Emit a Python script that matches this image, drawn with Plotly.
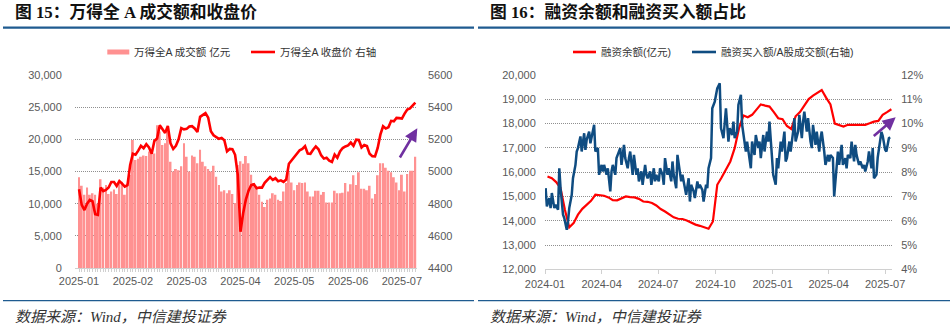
import pandas as pd
import plotly.graph_objects as go

W, H = 952, 326

# ---------------- 图15: 万得全A 成交额 & 收盘价 (2025, trading days) ----------------
holidays_2025 = ["2025-01-28", "2025-01-29", "2025-01-30", "2025-01-31", "2025-02-03",
                 "2025-02-04", "2025-04-04", "2025-05-01", "2025-05-02", "2025-05-05",
                 "2025-06-02"]
trade_dates = [d.strftime("%Y-%m-%d") for d in pd.bdate_range("2025-01-02", "2025-07-11")
               if d.strftime("%Y-%m-%d") not in holidays_2025]

# 成交额 (亿元)
turnover = [
    14100, 12800, 11400, 12500, 11400, 11600, 11400, 10000, 13800, 12500,
    12900, 11500, 11900, 12200, 11500, 13600, 13400, 11400, 13100, 14500,
    19900, 16800, 17000, 17300, 17500, 17400, 18100, 17800, 17800, 22200,
    21200, 19100, 19400, 21300, 16500, 15000, 15400, 15200, 15800, 19400,
    17300, 15000, 17500, 17300, 16300, 18400, 16500, 15800, 15400, 15000,
    15900, 14200, 12900, 11900, 12100, 11600, 12100, 11500, 10100, 16000,
    16600, 16200, 17400, 16300, 14500, 13200, 12600, 11400, 10300, 9500,
    10600, 10800, 11600, 11400, 10600, 10400, 11900, 13200, 14900, 13300,
    12100, 12900, 13300, 13200, 13300, 11900, 11100, 11100, 12000, 12000,
    11400, 11800, 10200, 10200, 10200, 12000, 11600, 11600, 11700, 13200,
    11900, 13000, 14400, 12900, 14900, 12300, 12300, 12100, 12800, 10800,
    11500, 14400, 16300, 16300, 15600, 15100, 14900, 14100, 13300, 12100,
    14500, 11900, 14600, 15100, 15100, 17300,
]

# 收盘价
close = [
    4890, 4792, 4760, 4800, 4823, 4815, 4735, 4730, 4900, 4878,
    4885, 4900, 4935, 4935, 4910, 4940, 4925, 4906, 4915, 5040,
    5110, 5104, 5130, 5160, 5145, 5170, 5150, 5110, 5190, 5205,
    5288, 5265, 5240, 5283, 5175, 5140, 5160, 5200, 5270, 5262,
    5265, 5280, 5282, 5268, 5245, 5340, 5354, 5363, 5335, 5250,
    5225, 5212, 5203, 5208, 5195, 5125, 5140, 5138, 5104, 4980,
    4625, 4740, 4825, 4880, 4915, 4920, 4896, 4900, 4900, 4930,
    4948, 4965, 4948, 4958, 4940, 4945, 4935, 4950, 5048, 5070,
    5088, 5110, 5132, 5140, 5158, 5112, 5110, 5135, 5156, 5138,
    5100, 5080, 5085, 5068, 5060, 5105, 5085, 5125, 5146, 5156,
    5162, 5180, 5160, 5198, 5196, 5150, 5165, 5158, 5110, 5095,
    5094, 5146, 5229, 5281, 5267, 5275, 5315, 5312, 5333, 5332,
    5329, 5360, 5385, 5392, 5412, 5428,
]

month_ticktext = [d[:7] if i % 20 == 0 else "" for i, d in enumerate(trade_dates)]

# ---------------- 图16: 融资余额 & 融资买入额占比 (2024-01 ~ 2025-07) ----------------
# 融资余额 (亿元), weekly (Fridays)
margin_balance = [
    15820, 15750, 15590, 15340, 14450, 13730, 13900, 14250, 14490, 14660,
    14820, 15070, 15040, 15030, 14960, 14850, 14840, 14930, 15000, 14970,
    14960, 14900, 14790, 14780, 14730, 14630, 14480, 14380, 14250, 14140,
    14080, 14070, 14010, 13920, 13840, 13790, 13730, 13670, 13970, 15480,
    15780, 16100, 16440, 16990, 17810, 18330, 18260, 18360, 18560, 18790,
    18740, 18700, 18470, 18220, 18180, 17900, 17780, 18300, 18470, 18740,
    19010, 19150, 19250, 19380, 19070, 18790, 18000, 17950, 17880, 17950,
    17950, 17950, 17970, 17950, 18010, 18080, 18110, 18360, 18470, 18590,
]
margin_dates = pd.date_range("2024-01-05", periods=len(margin_balance), freq="W-FRI")

# 融资买入额 / A股成交额 (%), every other trading day
buy_ratio = [
    7.34, 6.59, 6.93, 6.52, 7.14, 6.52, 6.66, 6.45, 8.16, 7.34,
    6.25, 6.11, 5.63, 5.97, 6.52, 7.07, 7.75, 8.30, 8.85, 8.99,
    9.47, 8.85, 9.60, 8.92, 9.33, 9.67, 9.19, 9.81, 9.95, 8.85,
    8.99, 7.89, 8.30, 8.03, 8.30, 7.89, 8.16, 7.21, 8.03, 8.30,
    7.89, 8.58, 8.85, 8.99, 8.30, 9.12, 8.58, 8.16, 8.58, 8.85,
    7.89, 8.71, 7.89, 8.16, 7.62, 8.03, 7.48, 8.30, 7.89, 7.75,
    8.03, 7.48, 8.16, 7.62, 7.89, 7.62, 8.16, 7.89, 7.48, 8.58,
    7.89, 8.16, 7.62, 8.44, 7.89, 7.34, 8.71, 8.03, 7.62, 7.89,
    7.34, 7.07, 7.75, 6.79, 7.48, 7.21, 6.93, 7.62, 7.34, 7.48,
    7.27, 6.79, 7.48, 7.34, 8.16, 8.58, 10.63, 10.90, 11.18, 11.45,
    11.66, 9.81, 9.40, 9.95, 10.63, 9.26, 9.81, 9.53, 10.08, 9.40,
    9.67, 10.77, 11.18, 9.95, 9.53, 8.85, 9.26, 8.58, 8.16, 9.26,
    8.71, 9.53, 8.99, 9.26, 8.58, 9.53, 8.85, 9.67, 9.26, 10.08,
    8.85, 7.89, 7.48, 8.58, 8.16, 9.26, 8.85, 9.67, 8.44, 8.58,
    9.26, 8.85, 9.67, 10.22, 9.26, 9.67, 10.36, 9.40, 10.08, 10.49,
    9.67, 10.22, 9.26, 8.99, 9.95, 9.12, 9.67, 8.85, 9.40, 9.67,
    8.85, 8.30, 8.71, 8.44, 8.71, 8.58, 7.00, 8.44, 8.85, 8.30,
    9.12, 8.30, 8.58, 8.16, 8.71, 8.58, 9.26, 8.44, 9.12, 8.71,
    8.30, 8.44, 8.16, 8.30, 8.03, 8.44, 8.85, 8.16, 8.99, 7.75,
    7.90, 8.60, 9.30, 9.66, 9.50, 8.92, 8.85, 9.40, 9.44,
]
ratio_dates = pd.bdate_range("2024-01-02", periods=len(buy_ratio), freq="2B")

# ---------------- styling ----------------
RED = "#FF0000"
BAR = "#FF9191"
BLUE = "#0F4C81"
PURPLE = "#7030A0"
RULE = "#1F5B90"
GRID = "#8f8f8f"
AXIS = "#d0d0d0"
TICK_FONT = dict(family="Liberation Sans, Arial, Noto Sans CJK SC, sans-serif", size=11, color="#595959")
LEG_FONT = dict(family="Liberation Sans, Arial, Noto Sans CJK SC, sans-serif", size=10.5, color="#333333")
TITLE_FONT = dict(family="Liberation Serif, Noto Sans CJK SC, serif", size=16.8, color="#111111", weight="bold")
FOOT_FONT = dict(family="Liberation Serif, Noto Sans CJK SC, serif", size=15, color="#333333", style="italic")


def px(x):
    return x / W


def py(y):
    return 1 - y / H


fig = go.Figure()

fig.add_trace(go.Bar(x=trade_dates, y=turnover, marker_color=BAR, marker_line_width=0,
                     xaxis="x", yaxis="y", name="万得全A 成交额 亿元", showlegend=False))
fig.add_trace(go.Scatter(x=trade_dates, y=close, mode="lines", line=dict(color=RED, width=2.6),
                         xaxis="x", yaxis="y2", name="万得全A 收盘价 右轴", showlegend=False))

fig.add_trace(go.Scatter(x=margin_dates, y=margin_balance, mode="lines", line=dict(color=RED, width=2.2),
                         xaxis="x2", yaxis="y3", name="融资余额(亿元)", showlegend=False))
fig.add_trace(go.Scatter(x=ratio_dates, y=buy_ratio, mode="lines", line=dict(color=BLUE, width=2.5),
                         xaxis="x2", yaxis="y4", name="融资买入额/A股成交额(右轴)", showlegend=False))

grid_kw = dict(showgrid=True, gridcolor=GRID, griddash="1px,1px", gridwidth=1, zeroline=False)
hidden_tick = dict(ticks="outside", tickcolor="rgba(0,0,0,0)")

fig.update_layout(
    width=W, height=H,
    margin=dict(l=0, r=0, t=0, b=0, autoexpand=False),
    paper_bgcolor="white", plot_bgcolor="white",
    bargap=0.3,
    showlegend=False,
    xaxis=dict(domain=[px(75), px(416.7)], anchor="y", type="category", automargin=False,
               range=[-1.5, 125.5], tickmode="array", tickvals=trade_dates, ticktext=month_ticktext,
               ticks="outside", ticklen=3, tickcolor=AXIS, showline=True, linecolor=AXIS,
               showgrid=False, tickangle=0, tickfont=TICK_FONT),
    yaxis=dict(domain=[py(268), py(75)], anchor="x", range=[0, 30000], dtick=5000, automargin=False,
               tickformat=",", tickfont=TICK_FONT, ticklen=10, **hidden_tick, **grid_kw),
    yaxis2=dict(overlaying="y", side="right", anchor="x", range=[4400, 5600], dtick=200,
                automargin=False, showgrid=False, zeroline=False, tickfont=TICK_FONT, ticklen=8,
                **hidden_tick),
    xaxis2=dict(domain=[px(545), px(892)], anchor="y3", type="date", automargin=False,
                range=["2024-01-01", "2025-07-12"], tick0="2024-01-01", dtick="M3",
                tickformat="%Y-%m", ticks="outside", ticklen=4, tickcolor=AXIS,
                showline=True, linecolor=AXIS, showgrid=False, tickfont=TICK_FONT),
    yaxis3=dict(domain=[py(269.3), py(75)], anchor="x2", range=[12000, 20000], dtick=1000,
                automargin=False, tickformat=",", tickfont=TICK_FONT, ticklen=6,
                **hidden_tick, **grid_kw),
    yaxis4=dict(overlaying="y3", side="right", anchor="x2", range=[4, 12], dtick=1,
                automargin=False, ticksuffix="%", showgrid=False, zeroline=False,
                tickfont=TICK_FONT, ticklen=6, **hidden_tick),
)

shapes = []
annotations = []

# header / footer rules
for x0, x1 in [(3, 474), (478, 950)]:
    shapes.append(dict(type="line", xref="paper", yref="paper", x0=px(x0), x1=px(x1),
                       y0=py(27.7), y1=py(27.7), line=dict(color=RULE, width=2.2)))
    shapes.append(dict(type="line", xref="paper", yref="paper", x0=px(x0), x1=px(x1),
                       y0=py(300.7), y1=py(300.7), line=dict(color=RULE, width=1.2)))

# titles and source notes
for x, text in [(13, "图 15：万得全 A 成交额和收盘价"), (488, "图 16：融资余额和融资买入额占比")]:
    annotations.append(dict(xref="paper", yref="paper", x=px(x), y=py(11.5), text=text,
                            showarrow=False, xanchor="left", yanchor="middle", font=TITLE_FONT))
for x in (13, 488):
    annotations.append(dict(xref="paper", yref="paper", x=px(x), y=py(316.5),
                            text="数据来源：Wind，中信建投证券", showarrow=False,
                            xanchor="left", yanchor="middle", font=FOOT_FONT))

# legends
shapes.append(dict(type="rect", xref="paper", yref="paper", x0=px(107.3), x1=px(129.3),
                   y0=py(54.5), y1=py(49.5), fillcolor=BAR, line=dict(width=0)))
for x0, x1, color in [(251, 275, RED), (573, 596, RED), (692, 716, BLUE)]:
    shapes.append(dict(type="line", xref="paper", yref="paper", x0=px(x0), x1=px(x1),
                       y0=py(52), y1=py(52), line=dict(color=color, width=2.6)))
for x, text in [(132, "万得全A 成交额 亿元"), (278, "万得全A 收盘价 右轴"),
                (598.5, "融资余额(亿元)"), (718.5, "融资买入额/A股成交额(右轴)")]:
    annotations.append(dict(xref="paper", yref="paper", x=px(x), y=py(52), text=text,
                            showarrow=False, xanchor="left", yanchor="middle", font=LEG_FONT))

# trend arrows
for (hx, hy), (tx, ty) in [((417.3, 128.3), (399, 159)), ((895.7, 117.3), (872.3, 137.3))]:
    annotations.append(dict(xref="paper", yref="paper", x=px(hx), y=py(hy), ax=tx - hx, ay=ty - hy,
                            axref="pixel", ayref="pixel", text="", showarrow=True,
                            arrowhead=2, arrowsize=1, arrowwidth=2.6, arrowcolor=PURPLE, standoff=0))

fig.update_layout(shapes=shapes, annotations=annotations)

fig.write_html("out.html")
